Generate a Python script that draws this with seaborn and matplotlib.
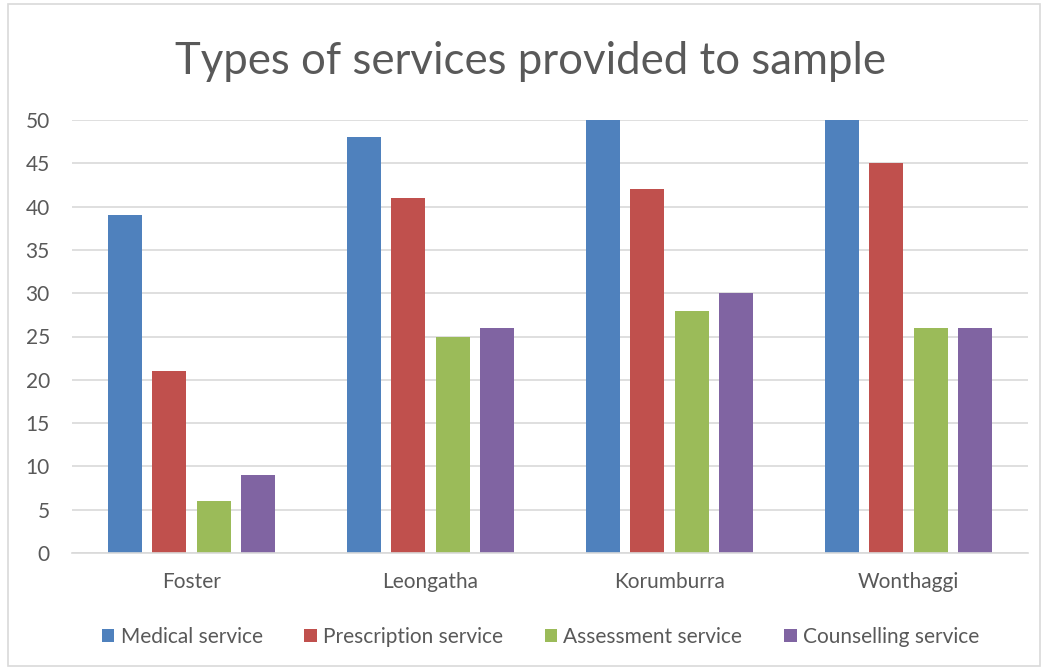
import matplotlib
matplotlib.use("Agg")
import matplotlib.pyplot as plt
from matplotlib.patches import Rectangle
import seaborn as sns
import pandas as pd

towns = ["Foster", "Leongatha", "Korumburra", "Wonthaggi"]
services = ["Medical service", "Prescription service", "Assessment service", "Counselling service"]
medical = [39, 48, 50, 50]
prescription = [21, 41, 42, 45]
assessment = [6, 25, 28, 26]
counselling = [9, 26, 30, 26]
colors = ["#4F81BD", "#C0504D", "#9BBB59", "#8064A2"]

rows = []
for svc, vals in zip(services, [medical, prescription, assessment, counselling]):
    for town, v in zip(towns, vals):
        rows.append({"Town": town, "Service": svc, "Count": v})
df = pd.DataFrame(rows)

sns.set_theme(style="white")
plt.rcParams["font.family"] = ["Lato", "DejaVu Sans"]
text_color = "#595959"

fig = plt.figure(figsize=(10.45, 6.7), dpi=100)
ax = fig.add_axes([72 / 1045, 1 - 553 / 670, 956 / 1045, 433 / 670])

sns.barplot(data=df, x="Town", y="Count", hue="Service", order=towns,
            hue_order=services, palette=colors, width=0.74, gap=0.23,
            linewidth=0, saturation=1, ax=ax, legend=True)

ax.set_ylim(0, 50)
ax.set_xlim(-0.5, 3.5)
ax.set_yticks(range(0, 51, 5))
ax.yaxis.grid(True, color="#D9D9D9", linewidth=1.2)
ax.set_axisbelow(True)
for s in ["top", "right", "left"]:
    ax.spines[s].set_visible(False)
ax.spines["bottom"].set_color("#D9D9D9")
ax.spines["bottom"].set_linewidth(1.2)
ax.tick_params(axis="both", length=0, labelsize=15, colors=text_color)
ax.tick_params(axis="y", pad=16)
ax.tick_params(axis="x", pad=14)
ax.set_xlabel("")
ax.set_ylabel("")

ax.legend(loc="center", bbox_to_anchor=(0.49, (1 - 637 / 670 - (1 - 553 / 670)) / (433 / 670)),
          ncol=4, frameon=False, fontsize=15, labelcolor=text_color,
          handlelength=0.6, handleheight=0.6, handletextpad=0.3, columnspacing=2.0)

fig.text(0.508, 1 - 61 / 670, "Types of services provided to sample", ha="center",
         va="center", fontsize=31.5, color=text_color)

fig.patches.append(Rectangle((8 / 1045, 4 / 670), 1032 / 1045, 662 / 670,
                             transform=fig.transFigure, fill=False,
                             edgecolor="#D9D9D9", linewidth=1.2))

fig.savefig("out.png", dpi=100)
